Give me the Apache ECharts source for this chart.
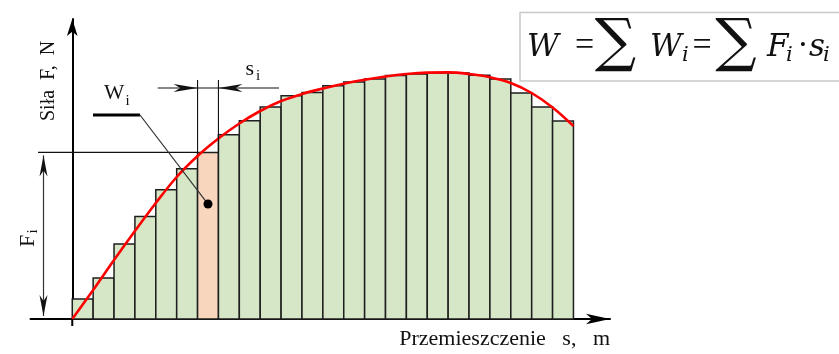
<!DOCTYPE html>
<html>
<head>
<meta charset="utf-8">
<script src="https://cdn.jsdelivr.net/npm/echarts@6/dist/echarts.min.js"></script>
<style>
  html, body { margin: 0; padding: 0; background: #fff; }
  #chart { width: 839px; height: 354px; }
</style>
</head>
<body>
<div id="chart"></div>
<script>
// Strip heights F_i, one strip per displacement step s_i
const stripForce = [20, 41, 75, 102.6, 129.3, 150.3, 166.6, 184.3, 198.3, 212, 223.3, 226.6,
                    233.3, 237, 240, 243.6, 245, 246, 246, 243.8, 240, 226, 212, 198];
// Force curve F(s), sampled at the strip edges
const curveS = [0, 1, 2, 3, 4, 5, 6, 7, 8, 9, 10, 11, 12, 13, 14, 15, 16, 17, 18, 19, 20, 21, 22, 23, 24];
const curveF = [0, 29, 59, 88, 116, 142, 163, 180.5, 195.5, 208, 218, 225, 230.5, 235.3, 239.2,
                242.5, 245, 246.4, 246.6, 245, 241.8, 236, 226, 211.5, 193];
// The single strip picked out as W_i
const highlightStrip = 6;

const yTitle = 'Siła  F,  N';
const xTitle = 'Przemieszczenie   s,   m';

const serif = '"Liberation Serif", "Times New Roman", serif';
const mathFont = '"DejaVu Serif", serif';

const chart = echarts.init(document.getElementById('chart'), null, { renderer: 'canvas' });

chart.setOption({
  animation: false,
  backgroundColor: '#fff',
  grid: { left: 30.5, right: 229, top: 19, bottom: 35, containLabel: false, outerBoundsMode: 'none' },
  xAxis: {
    type: 'value', min: -2, max: 25.75,
    axisLine: { onZero: true, symbol: ['none', 'arrow'], symbolSize: [8, 24],
                lineStyle: { color: '#000', width: 2 } },
    axisTick: { show: false }, axisLabel: { show: false }, splitLine: { show: false }
  },
  yAxis: {
    type: 'value', min: 0, max: 300,
    axisLine: { onZero: true, symbol: ['none', 'arrow'], symbolSize: [8, 17],
                lineStyle: { color: '#000', width: 2 } },
    axisTick: { show: false }, axisLabel: { show: false }, splitLine: { show: false }
  },
  series: [
    {
      type: 'custom',
      z: 2,
      data: stripForce.map((f, i) => [i, f]),
      renderItem: function (params, api) {
        const i = api.value(0);
        const f = api.value(1);
        const p0 = api.coord([i, f]);
        const p1 = api.coord([i + 1, 0]);
        return {
          type: 'rect',
          shape: { x: p0[0], y: p0[1], width: p1[0] - p0[0], height: p1[1] - p0[1] },
          style: {
            fill: i === highlightStrip ? '#f8d6be' : '#d5e7c7',
            stroke: '#1e1e1e',
            lineWidth: 1.5
          }
        };
      }
    },
    {
      type: 'line',
      z: 3,
      data: curveS.map((s, i) => [s, curveF[i]]),
      smooth: 0.35,
      symbol: 'none',
      lineStyle: { color: '#ff0000', width: 2.6 }
    }
  ]
});

// Notched arrow head pointing along (dx, dy) with its tip at (x, y)
function arrowHead(x, y, dx, dy, len, halfW) {
  const bx = x - dx * len, by = y - dy * len;
  const px = -dy, py = dx;
  return {
    type: 'polygon', z: 20,
    shape: { points: [[x, y], [bx + px * halfW, by + py * halfW], [x - dx * len * 0.72, y - dy * len * 0.72], [bx - px * halfW, by - py * halfW]] },
    style: { fill: '#111' }
  };
}
function seg(x1, y1, x2, y2, w, c) {
  return { type: 'line', z: 20, shape: { x1, y1, x2, y2 }, style: { stroke: c || '#222', lineWidth: w || 1.2 } };
}
// Text placed by its baseline (y); the em box middle sits about 0.34 em above it
function txt(x, baseline, text, font, size, opts) {
  opts = opts || {};
  return {
    type: 'text', z: 30, x: x, y: baseline - 0.34 * size,
    style: Object.assign({ text: text, fill: '#111',
                           font: (opts.italic ? 'italic ' : '') + size + 'px ' + font,
                           align: 'left', verticalAlign: 'middle' }, opts.style || {})
  };
}

const px = (s, f) => chart.convertToPixel({ gridIndex: 0 }, [s, f]);
const origin = px(0, 0);
const stripL = px(highlightStrip, stripForce[highlightStrip]);
const stripR = px(highlightStrip + 1, stripForce[highlightStrip]);
const Fy = stripL[1];
const dot = px(highlightStrip + 0.5, stripForce[highlightStrip] * 0.69);

const dimY = 88;
const fArrowX = 43.5;

const graphics = [
  // y axis runs a little below the s axis
  seg(origin[0], origin[1], origin[0], origin[1] + 7, 2, '#000'),
  // F_i level line and its dimension arrow
  seg(38, Fy, stripL[0], Fy, 1.1, '#111'),
  seg(fArrowX, Fy + 3, fArrowX, origin[1] - 3, 1.2, '#333'),
  arrowHead(fArrowX, Fy + 3, 0, -1, 21, 4),
  arrowHead(fArrowX, origin[1] - 3, 0, 1, 21, 4),
  // s_i extension lines and dimension arrows
  seg(stripL[0], 80, stripL[0], Fy, 1.1, '#111'),
  seg(stripR[0], 80, stripR[0], Fy, 1.1, '#111'),
  seg(157.7, dimY, 279, dimY, 1.1, '#111'),
  arrowHead(stripL[0], dimY, 1, 0, 24, 4),
  arrowHead(stripR[0], dimY, -1, 0, 24, 4),
  // W_i leader
  seg(93, 115, 140, 115, 3, '#000'),
  seg(140, 115, dot[0], dot[1], 1.2, '#333'),
  { type: 'circle', z: 25, shape: { cx: dot[0], cy: dot[1], r: 4.5 }, style: { fill: '#000' } },
  // labels
  txt(104, 101, 'W', serif, 21.5),
  txt(125.5, 106, 'i', serif, 15),
  txt(245.5, 77, 's', serif, 22),
  txt(256, 81, 'i', serif, 15),
  // rotated force labels (reading upwards)
  {
    type: 'text', z: 30, x: 48.5, y: 121, rotation: Math.PI / 2,
    style: { text: yTitle, font: '20px ' + serif, fill: '#111', align: 'left', verticalAlign: 'middle' }
  },
  {
    type: 'group', x: 28, y: 247, rotation: Math.PI / 2, z: 30,
    children: [
      { type: 'text', x: 0, y: 0, style: { text: 'F', font: '22px ' + serif, fill: '#111', align: 'left', verticalAlign: 'middle' } },
      { type: 'text', x: 13.5, y: 5, style: { text: 'i', font: '15px ' + serif, fill: '#111', align: 'left', verticalAlign: 'middle' } }
    ]
  },
  txt(610, 347, xTitle, serif, 22, { style: { align: 'right' } }),
  // work formula box
  { type: 'rect', z: 10, shape: { x: 520, y: 12.5, width: 330, height: 68.5 },
    style: { fill: '#fff', stroke: '#c8c8c8', lineWidth: 1.5 } },
  txt(527, 58, 'W', mathFont, 31, { italic: true }),
  txt(584.5, 58, '=', serif, 34, { style: { align: 'center' } }),
  { type: 'text', z: 30, x: 615.5, y: 45,
    style: { text: '∑', font: '58px ' + mathFont, fill: '#111', align: 'center', verticalAlign: 'middle' } },
  txt(650, 58, 'W', mathFont, 31, { italic: true }),
  txt(682, 63, 'i', mathFont, 21, { italic: true }),
  txt(702, 58, '=', serif, 34, { style: { align: 'center' } }),
  { type: 'text', z: 30, x: 736, y: 45,
    style: { text: '∑', font: '58px ' + mathFont, fill: '#111', align: 'center', verticalAlign: 'middle' } },
  txt(767, 58, 'F', mathFont, 31, { italic: true }),
  txt(786, 63, 'i', mathFont, 21, { italic: true }),
  txt(803, 58, '·', serif, 34, { style: { align: 'center' } }),
  txt(809, 58, 's', mathFont, 31, { italic: true }),
  txt(823, 63, 'i', mathFont, 21, { italic: true })
];

chart.setOption({ graphic: graphics });
</script>
</body>
</html>
